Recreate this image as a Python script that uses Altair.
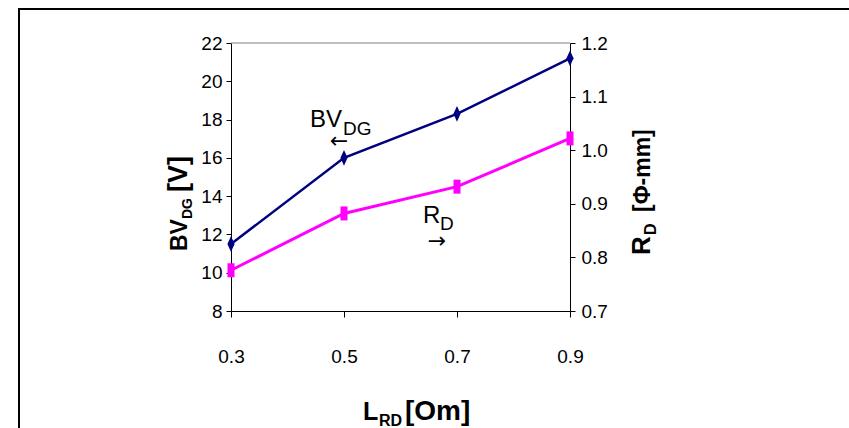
import altair as alt
import pandas as pd

# ---- data ----
l_rd = [0.3, 0.5, 0.7, 0.9]
bv_dg = [11.5, 16.0, 18.3, 21.2]
r_d = [0.776, 0.882, 0.932, 1.022]
left_ticks = [8, 10, 12, 14, 16, 18, 20, 22]
right_ticks = [0.7, 0.8, 0.9, 1.0, 1.1, 1.2]
x_ticks = [0.3, 0.5, 0.7, 0.9]

df = pd.DataFrame({"L": l_rd, "BV": bv_dg, "RD": r_d})
one = pd.DataFrame({"a": [0]})

W, H = 339, 268
PL, PT = 231, 43
NARROW = "Liberation Sans Narrow, Arial Narrow, Liberation Sans, Arial, sans-serif"
SANS = "Liberation Sans, Arial, DejaVu Sans, sans-serif"
LABEL_SIZE = 19

diamond = "M0,-1L0.45,0L0,1L-0.45,0Z"
bar = "M-0.5,-1H0.5V1H-0.5Z"

xenc = alt.X("L:Q", scale=alt.Scale(domain=[0.3, 0.9], nice=False, zero=False),
             axis=alt.Axis(values=x_ticks, format=".1f", title=None, grid=False,
                           domainColor="black", tickColor="black", tickSize=6,
                           labelFont=NARROW, labelFontSize=LABEL_SIZE, labelColor="black",
                           labelPadding=30, labelFlush=False))

blue = alt.Chart(df).mark_line(
    color="#000080", strokeWidth=2.5,
    point=alt.OverlayMarkDef(shape=diamond, size=250, filled=True, color="#000080")
).encode(
    x=xenc,
    y=alt.Y("BV:Q", scale=alt.Scale(domain=[8, 22], nice=False, zero=False),
            axis=alt.Axis(orient="left", values=left_ticks, title=None, grid=False,
                          domainColor="black", tickColor="black", tickSize=5,
                          labelFont=NARROW, labelFontSize=LABEL_SIZE, labelColor="black",
                          labelPadding=4, labelFlush=False))
)

pink = alt.Chart(df).mark_line(
    color="#FF00FF", strokeWidth=3,
    point=alt.OverlayMarkDef(shape=bar, size=196, filled=True, color="#FF00FF")
).encode(
    x=xenc,
    y=alt.Y("RD:Q", scale=alt.Scale(domain=[0.7, 1.2], nice=False, zero=False),
            axis=alt.Axis(orient="right", values=right_ticks, format=".1f", title=None,
                          grid=False, domainColor="black", tickColor="black", tickSize=5,
                          labelFont=NARROW, labelFontSize=LABEL_SIZE, labelColor="black",
                          labelPadding=6, labelFlush=False))
)


def txt(s, x, y, size, bold=False, angle=0, align="left", baseline="alphabetic", font=SANS):
    kw = dict(text=s, fontSize=size, font=font, color="black", align=align,
              baseline=baseline, fontWeight="bold" if bold else "normal")
    if angle:
        kw["angle"] = angle
    return alt.Chart(one).mark_text(**kw).encode(x=alt.value(x - PL), y=alt.value(y - PT))


frame = alt.Chart(one).mark_rect(filled=False, stroke="black", strokeWidth=2).encode(
    x=alt.value(19 - PL), x2=alt.value(1000), y=alt.value(9 - PT), y2=alt.value(1000))
topline = alt.Chart(one).mark_rule(color="#808080", strokeWidth=1).encode(
    x=alt.value(0), x2=alt.value(W), y=alt.value(0))

texts = [
    # left axis title
    txt("BV", 187, 251, 23, bold=True, angle=270),
    txt("DG", 192, 219, 14, bold=True, angle=270),
    txt("[V]", 187, 192, 27, bold=True, angle=270),
    # right axis title
    txt("R", 650, 255, 26, bold=True, angle=270),
    txt("D", 656, 235, 16, bold=True, angle=270),
    txt("[Φ-mm]", 650, 212, 23, bold=True, angle=270),
    # x axis title
    txt("L", 363, 420, 25, bold=True),
    txt("RD", 379, 426, 16, bold=True),
    txt("[Om]", 405, 420, 28, bold=True),
    # in-plot annotations
    txt("BV", 310, 127, 24),
    txt("DG", 343, 135, 19),
    txt("←", 339, 141, 22, align="center", baseline="middle", font="DejaVu Sans"),
    txt("R", 423, 223, 24),
    txt("D", 440, 230, 19),
    txt("→", 437, 241, 22, align="center", baseline="middle", font="DejaVu Sans"),
]

chart = alt.layer(frame, topline, blue, pink, *texts).resolve_scale(y="independent").properties(
    width=W, height=H, autosize="none",
    padding={"left": PL, "top": PT, "right": 849 - PL - W, "bottom": 428 - PT - H},
    background="white",
).configure_view(stroke=None)

chart.save("out.html", embed_options={"renderer": "svg", "actions": False})
